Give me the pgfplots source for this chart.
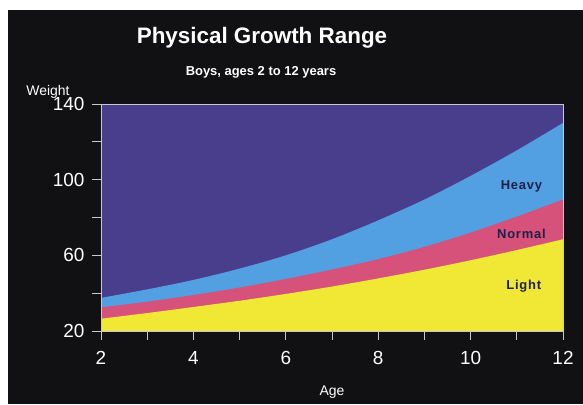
\documentclass[border=0pt]{standalone}
\usepackage{pgfplots}
\pgfplotsset{compat=1.18}
\usepackage{fontspec}
\setmainfont{Liberation Sans}

\definecolor{bgblack}{RGB}{17,17,19}
\definecolor{plotpurple}{RGB}{72,62,140}
\definecolor{heavyblue}{RGB}{82,160,225}
\definecolor{normalpink}{RGB}{214,82,122}
\definecolor{lightyellow}{RGB}{240,232,52}
\definecolor{axisgray}{RGB}{200,200,205}
\definecolor{labelnavy}{RGB}{30,32,72}

\begin{document}
\begin{tikzpicture}[x=1bp,y=1bp]
\fill[white] (0,0) rectangle (583,404);
\fill[bgblack] (8,0) rectangle (583,394);

\begin{axis}[
    at={(101bp,73bp)}, anchor=south west,
    scale only axis,
    width=462bp, height=227bp,
    xmin=2, xmax=12, ymin=20, ymax=140,
    axis background/.style={fill=plotpurple},
    axis line style={draw=axisgray, line width=0.6pt},
    xtick={2,4,...,12}, minor xtick={3,5,...,11},
    ytick={20,60,100,140}, minor ytick={40,80,120},
    tick pos=left,
    tick align=outside,
    major tick length=9bp, minor tick length=9bp,
    tick style={draw=axisgray, line width=0.8pt},
    /pgf/number format/assume math mode=true,
    ticklabel style={font=\fontsize{19}{19}\selectfont, text=white},
    xticklabel style={yshift=-8bp},
    yticklabel style={xshift=-4bp},
    axis on top,
]
% Heavy (upper limit)
\addplot[fill=heavyblue, draw=none, smooth] coordinates {
    (2,37.5) (3,42) (4,47) (5,53) (6,60) (7,68.5) (8,78.5)
    (9,89.5) (10,102) (11,115.5) (12,130)
} \closedcycle;
% Normal (upper limit)
\addplot[fill=normalpink, draw=none, smooth] coordinates {
    (2,32.5) (3,35.5) (4,39) (5,43) (6,47.5) (7,52.5) (8,58)
    (9,64.5) (10,72) (11,80.5) (12,89.5)
} \closedcycle;
% Light (upper limit)
\addplot[fill=lightyellow, draw=none, smooth] coordinates {
    (2,26.5) (3,29.5) (4,32.7) (5,36) (6,39.6) (7,43.5) (8,47.8)
    (9,52.4) (10,57.4) (11,62.8) (12,68.5)
} \closedcycle;

\node[anchor=base, text=labelnavy, font=\bfseries\fontsize{13}{13}\selectfont\addfontfeature{LetterSpace=6}]
    at (axis cs:11.1,95) {Heavy};
\node[anchor=base, text=labelnavy, font=\bfseries\fontsize{13}{13}\selectfont\addfontfeature{LetterSpace=6}]
    at (axis cs:11.1,68.7) {Normal};
\node[anchor=base, text=labelnavy, font=\bfseries\fontsize{13}{13}\selectfont\addfontfeature{LetterSpace=6}]
    at (axis cs:11.15,42.2) {Light};
\end{axis}

\node[anchor=base, text=white, font=\bfseries\fontsize{22.5}{22.5}\selectfont]
    at (262,361) {Physical Growth Range};
\node[anchor=base, text=white, font=\bfseries\fontsize{13}{13}\selectfont]
    at (261,329) {Boys, ages 2 to 12 years};
\node[anchor=base, text=white, font=\fontsize{14}{14}\selectfont]
    at (48,309) {Weight};
\node[anchor=base, text=white, font=\fontsize{14}{14}\selectfont]
    at (332,8.5) {Age};

\pgfresetboundingbox
\path (0,0) rectangle (583,404);
\end{tikzpicture}
\end{document}
